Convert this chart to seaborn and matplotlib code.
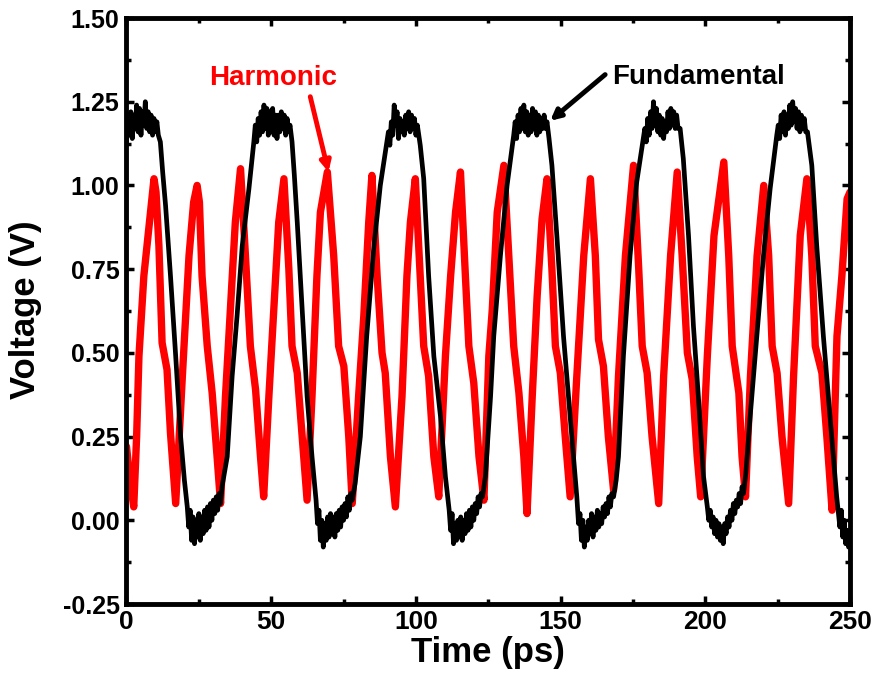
import numpy as np
import pandas as pd
import matplotlib
matplotlib.use("Agg")
import matplotlib.pyplot as plt
from matplotlib.ticker import MultipleLocator, FormatStrFormatter
import seaborn as sns

# ---------------- data ----------------
fund_t = [0, 0.5, 1, 1.5, 2, 2.5, 3, 3.5, 4, 4.5, 5, 5.5, 6, 6.5, 7, 7.5, 8, 8.5, 9, 9.5, 10, 10.5, 11, 11.7,
          12.5, 13.5, 15.2, 17, 18.7, 20, 21,
          21.5, 22, 22.5, 23, 23.5, 24, 24.5, 25, 25.5, 26, 26.5, 27, 27.5, 28, 28.5, 29, 29.5, 30, 30.5, 31, 31.5, 32, 32.5, 33,
          34.8, 36.5, 38.2, 40, 42.3, 44,
          44.5, 45, 45.5, 46, 46.5, 47, 47.5, 48, 48.5, 49, 49.5, 50, 50.5, 51, 51.5, 52, 52.5, 53, 53.5, 54, 54.5, 55, 55.5, 56, 56.5, 57.2,
          58, 59, 60.7, 62.4, 64.1, 65.5,
          66, 66.5, 67, 67.5, 68, 68.5, 69, 69.5, 70, 70.5, 71, 71.5, 72, 72.5, 73, 73.5, 74, 74.5, 75, 75.5, 76, 76.5, 77, 77.5, 78, 79,
          80.8, 83, 85.4, 87.7, 90,
          90.5, 91, 91.5, 92, 92.5, 93, 93.5, 94, 94.5, 95, 95.5, 96, 96.5, 97, 97.5, 98, 98.5, 99, 99.5, 100, 100.5, 101.5,
          102.7, 104.4, 106.2, 108.5, 110.2, 111.5,
          112, 112.5, 113, 113.5, 114, 114.5, 115, 115.5, 116, 116.5, 117, 117.5, 118, 118.5, 119, 119.5, 120, 120.5, 121, 121.5, 122, 122.5, 123, 124,
          125.8, 126.9, 129.2, 131.5, 133.8,
          134.3, 134.8, 135.3, 135.8, 136.3, 136.8, 137.3, 137.8, 138.3, 138.8, 139.3, 139.8, 140.3, 140.8, 141.3, 141.8, 142.3, 142.8, 143.3, 143.8, 144.3, 144.8, 145.3, 146,
          147, 148.7, 151, 153.3, 155.6,
          156.2, 156.7, 157.2, 157.7, 158.2, 158.7, 159.2, 159.7, 160.2, 160.7, 161.2, 161.7, 162.2, 162.7, 163.2, 163.7, 164.2, 164.7, 165.2, 165.7, 166.2, 166.7, 167.2, 167.7, 168.3, 169.2,
          170, 171.7, 174, 176.3, 178.6,
          179.1, 179.6, 180.1, 180.6, 181.1, 181.6, 182.1, 182.6, 183.1, 183.6, 184.1, 184.6, 185.1, 185.6, 186.1, 186.6, 187.1, 187.6, 188.1, 188.6, 189.1, 189.6, 190.1, 190.6, 191.3,
          192.4, 194.2, 195.9, 197.6, 199.4, 200.7,
          201.2, 201.7, 202.2, 202.7, 203.2, 203.7, 204.2, 204.7, 205.2, 205.7, 206.2, 206.7, 207.2, 207.7, 208.2, 208.7, 209.2, 209.7, 210.2, 210.7, 211.2, 211.7, 212.2, 212.7, 213.2, 214,
          215.5, 217.8, 220.1, 222.4, 224.7,
          225.2, 225.7, 226.2, 226.7, 227.2, 227.7, 228.2, 228.7, 229.2, 229.7, 230.2, 230.7, 231.2, 231.7, 232.2, 232.7, 233.2, 233.7, 234.2, 234.7, 235.3,
          236.8, 238.5, 240.8, 243.1, 245.4,
          246, 246.5, 247, 247.5, 248, 248.5, 249, 249.5, 250]
fund_v = [1.13, 1.20, 1.15, 1.22, 1.14, 1.21, 1.17, 1.24, 1.16, 1.23, 1.15, 1.22, 1.18, 1.25, 1.17, 1.22, 1.16, 1.21, 1.15, 1.20, 1.16, 1.19, 1.15, 1.13,
          1.04, 0.94, 0.73, 0.49, 0.25, 0.12, 0.04,
          -0.02, 0.03, -0.06, 0.01, -0.07, 0.00, -0.05, 0.02, -0.06, 0.01, -0.04, 0.03, -0.03, 0.04, -0.02, 0.05, 0.00, 0.06, 0.02, 0.07, 0.03, 0.08, 0.05, 0.10,
          0.19, 0.43, 0.61, 0.82, 0.99, 1.13,
          1.18, 1.13, 1.20, 1.15, 1.22, 1.16, 1.24, 1.17, 1.23, 1.15, 1.22, 1.16, 1.23, 1.15, 1.21, 1.14, 1.21, 1.16, 1.22, 1.17, 1.21, 1.15, 1.20, 1.16, 1.18, 1.13,
          1.03, 0.89, 0.63, 0.37, 0.19, 0.06,
          -0.01, 0.03, -0.06, 0.00, -0.08, -0.01, -0.06, 0.01, -0.05, 0.02, -0.04, 0.01, -0.05, 0.02, -0.03, 0.03, -0.02, 0.04, 0.00, 0.05, 0.01, 0.07, 0.03, 0.08, 0.06, 0.11,
          0.25, 0.55, 0.81, 1.00, 1.13,
          1.16, 1.12, 1.19, 1.15, 1.24, 1.18, 1.22, 1.14, 1.20, 1.16, 1.19, 1.15, 1.21, 1.17, 1.22, 1.16, 1.21, 1.17, 1.20, 1.15, 1.18, 1.12,
          1.02, 0.73, 0.49, 0.31, 0.13, 0.03,
          -0.03, 0.02, -0.07, -0.01, -0.06, 0.00, -0.05, 0.01, -0.06, 0.00, -0.04, 0.02, -0.03, 0.03, -0.02, 0.04, 0.00, 0.05, 0.02, 0.07, 0.04, 0.08, 0.07, 0.13,
          0.37, 0.55, 0.79, 1.00, 1.15,
          1.19, 1.14, 1.21, 1.16, 1.23, 1.17, 1.24, 1.16, 1.22, 1.15, 1.21, 1.16, 1.23, 1.17, 1.22, 1.15, 1.21, 1.16, 1.20, 1.17, 1.21, 1.17, 1.19, 1.14,
          1.06, 0.85, 0.55, 0.31, 0.07,
          -0.01, 0.02, -0.06, 0.00, -0.08, -0.02, -0.06, 0.00, -0.04, 0.02, -0.05, 0.01, -0.03, 0.03, -0.02, 0.02, -0.01, 0.04, 0.01, 0.05, 0.02, 0.07, 0.04, 0.08, 0.07, 0.12,
          0.19, 0.49, 0.79, 1.01, 1.14,
          1.17, 1.13, 1.20, 1.15, 1.22, 1.17, 1.25, 1.18, 1.23, 1.16, 1.21, 1.15, 1.20, 1.14, 1.19, 1.16, 1.22, 1.17, 1.23, 1.18, 1.22, 1.17, 1.21, 1.17, 1.17,
          1.08, 0.85, 0.58, 0.37, 0.13, 0.04,
          0.00, 0.03, -0.02, 0.01, -0.04, 0.00, -0.05, -0.01, -0.06, -0.02, -0.07, -0.01, -0.04, 0.01, -0.02, 0.03, 0.00, 0.05, 0.02, 0.06, 0.04, 0.08, 0.05, 0.10, 0.08, 0.14,
          0.31, 0.55, 0.79, 0.99, 1.15,
          1.18, 1.14, 1.21, 1.16, 1.22, 1.15, 1.21, 1.17, 1.24, 1.18, 1.25, 1.19, 1.23, 1.17, 1.22, 1.16, 1.21, 1.17, 1.20, 1.16, 1.16,
          1.06, 0.82, 0.55, 0.31, 0.07,
          0.02, -0.02, 0.03, -0.05, 0.00, -0.07, -0.03, -0.08, -0.04]

harm_t = [0, 1.2, 2.5, 3.5, 4.3, 6, 8.3, 9.5, 10.2, 11.2, 12.3, 14, 15.2, 17, 19.3, 21.6, 23.2, 24.4, 25.2, 26.1, 27.9, 29.6,
          31.3, 32.5, 34.2, 35.9, 37.6, 39.4, 41.1, 42.8, 44.6, 46.3, 47.4, 49.2, 50.9, 52.6, 54.4, 56.1, 57.2, 59, 60.7,
          62.4, 64.1, 65.8, 67, 69.4, 71.6, 73.3, 75.1, 76.8, 78, 80.2, 82, 83.7, 84.8, 86.6, 88.3, 89.4, 91.2, 92.9,
          95.2, 96.9, 98.1, 99.8, 101.5, 102.7, 104.4, 106.2, 107.9, 110.2, 112, 113.7, 115.4, 117.1, 118.3, 120, 121.8,
          123.5, 125.2, 126.4, 128.1, 130.4, 132.1, 133.8, 135.6, 137.3, 138.4, 140.2, 141.9, 143.6, 145.3, 147, 148.2,
          149.9, 151.6, 153.3, 155.6, 158, 160.3, 162, 163.1, 164.8, 166.5, 168.3, 170, 172.4, 175.2, 177, 178.2, 179.9,
          181.6, 183.9, 185.6, 188, 190.3, 192, 193.8, 195.5, 197.2, 198.4, 200.7, 203, 206.4, 208.1, 209.3, 211.6, 212.7,
          213.9, 215.6, 217.9, 220.2, 221.9, 223.1, 224.8, 226.5, 228.8, 230.5, 232.8, 235.1, 236.8, 238, 240.3, 242,
          243.8, 245.5, 247.2, 249, 250]
harm_v = [0.22, 0.12, 0.04, 0.25, 0.49, 0.73, 0.92, 1.02, 0.98, 0.82, 0.53, 0.45, 0.26, 0.05, 0.43, 0.79, 0.95, 1.00, 0.95, 0.73, 0.52, 0.38,
          0.19, 0.05, 0.37, 0.63, 0.89, 1.05, 0.79, 0.52, 0.39, 0.19, 0.07, 0.37, 0.63, 0.89, 1.02, 0.75, 0.52, 0.44, 0.25,
          0.06, 0.37, 0.73, 0.92, 1.04, 0.79, 0.52, 0.46, 0.25, 0.05, 0.37, 0.61, 0.89, 1.03, 0.73, 0.50, 0.44, 0.19, 0.04,
          0.37, 0.73, 0.89, 1.02, 0.73, 0.52, 0.43, 0.19, 0.07, 0.49, 0.73, 0.92, 1.04, 0.73, 0.52, 0.41, 0.19,
          0.06, 0.49, 0.63, 0.92, 1.06, 0.79, 0.52, 0.38, 0.19, 0.02, 0.37, 0.67, 0.90, 1.02, 0.75, 0.52,
          0.44, 0.25, 0.07, 0.43, 0.79, 1.02, 0.79, 0.54, 0.46, 0.25, 0.09, 0.43, 0.79, 1.06, 0.75, 0.52, 0.44,
          0.25, 0.05, 0.43, 0.79, 1.04, 0.79, 0.50, 0.42, 0.19, 0.07, 0.49, 0.85, 1.07, 0.79, 0.52, 0.38, 0.19,
          0.07, 0.43, 0.79, 1.00, 0.79, 0.52, 0.44, 0.25, 0.05, 0.43, 0.85, 1.02, 0.79, 0.52, 0.44, 0.25,
          0.03, 0.55, 0.73, 0.96, 0.98]

x_ticks = [0, 50, 100, 150, 200, 250]
y_ticks = [-0.25, 0.00, 0.25, 0.50, 0.75, 1.00, 1.25, 1.50]

# ---------------- plot ----------------
sns.set_style("ticks")
plt.rcParams["font.family"] = ["Liberation Sans", "DejaVu Sans"]
plt.rcParams["font.weight"] = "bold"
plt.rcParams["axes.unicode_minus"] = False
plt.rcParams["text.color"] = "black"
plt.rcParams["axes.labelcolor"] = "black"
plt.rcParams["xtick.color"] = "black"
plt.rcParams["ytick.color"] = "black"
plt.rcParams["axes.edgecolor"] = "black"

fig = plt.figure(figsize=(8.77, 6.75), dpi=100)
ax = fig.add_axes([126.5 / 877, 1 - 604 / 675, (850 - 126.5) / 877, (604 - 18) / 675])

df_h = pd.DataFrame({"t": harm_t, "v": harm_v})
df_f = pd.DataFrame({"t": fund_t, "v": fund_v})
sns.lineplot(data=df_h, x="t", y="v", color="#ff0000", lw=5.3, estimator=None, sort=False, ax=ax, zorder=2)
sns.lineplot(data=df_f, x="t", y="v", color="black", lw=3.4, estimator=None, sort=False, ax=ax, zorder=3)

ax.set_xlim(0, 250)
ax.set_ylim(-0.25, 1.5)
ax.set_xticks(x_ticks)
ax.set_yticks(y_ticks)
ax.xaxis.set_minor_locator(MultipleLocator(25))
ax.yaxis.set_minor_locator(MultipleLocator(0.125))
ax.yaxis.set_major_formatter(FormatStrFormatter("%.2f"))
ax.tick_params(which="both", direction="in", top=True, right=True, width=2.5,
               color="black", labelcolor="black")
ax.tick_params(which="major", length=6)
ax.tick_params(which="minor", length=3.5)
ax.tick_params(axis="y", labelsize=18, pad=5)
ax.tick_params(axis="x", labelsize=19, pad=4)
for lab in ax.get_xticklabels() + ax.get_yticklabels():
    lab.set_fontweight("bold")
    lab.set_color("black")
for s in ax.spines.values():
    s.set_linewidth(3.5)
    s.set_color("black")

ax.set_xlabel("Time (ps)", fontsize=25, fontweight="bold", va="center", color="black")
ax.set_ylabel("Voltage (V)", fontsize=25, fontweight="bold", va="center", color="black")
ax.xaxis.set_label_coords(0.5, -0.0836)
ax.yaxis.set_label_coords(-0.139, 0.503)

# annotations
ax.text(50.8, 1.32, "Harmonic", color="#ff0000", fontsize=20, fontweight="bold",
        ha="center", va="center")
ax.annotate("", xy=(69.8, 1.04), xytext=(63.5, 1.265),
            arrowprops=dict(arrowstyle="-|>,head_length=0.6,head_width=0.3",
                            color="#ff0000", lw=3.5, shrinkA=0, shrinkB=0))
ax.text(167.8, 1.325, "Fundamental", color="black", fontsize=20, fontweight="bold",
        ha="left", va="center")
ax.annotate("", xy=(146.4, 1.193), xytext=(165.4, 1.331),
            arrowprops=dict(arrowstyle="-|>,head_length=0.6,head_width=0.3",
                            color="black", lw=3.5, shrinkA=0, shrinkB=0))

fig.savefig("out.png", dpi=100)
